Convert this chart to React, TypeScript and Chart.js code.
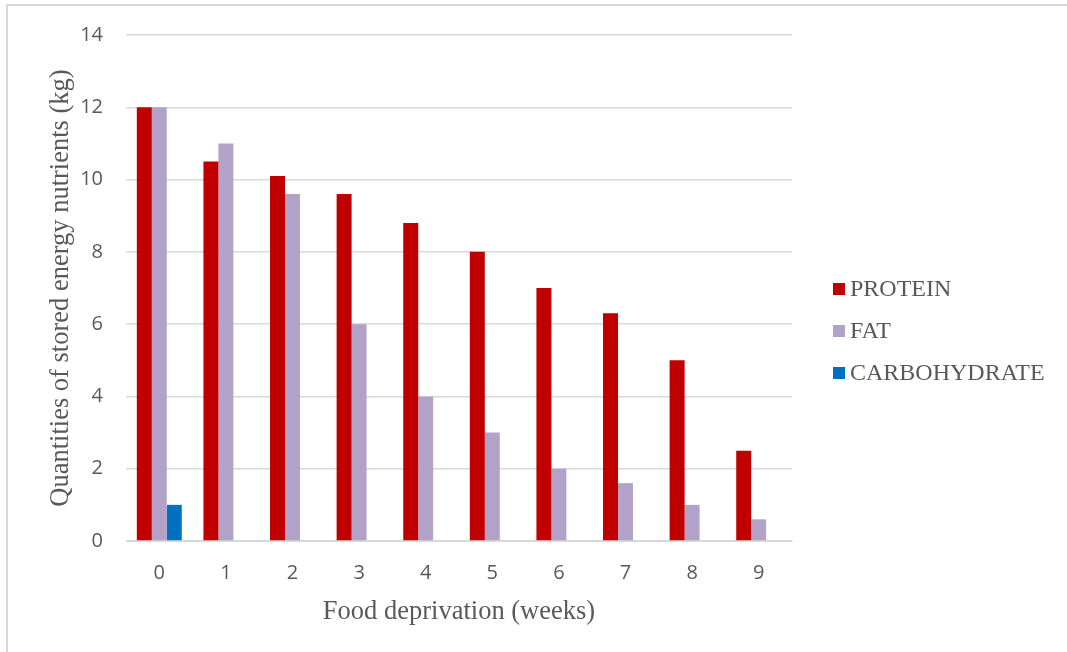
import React, { useEffect, useRef } from "react";
import { Chart, registerables } from "chart.js";

Chart.register(...registerables);

const categories = ["0", "1", "2", "3", "4", "5", "6", "7", "8", "9"];
const protein = [12, 10.5, 10.1, 9.6, 8.8, 8, 7, 6.3, 5, 2.5];
const fat = [12, 11, 9.6, 6, 4, 3, 2, 1.6, 1, 0.6];
const carbohydrate = [1, null, null, null, null, null, null, null, null, null];
const seriesNames = ["PROTEIN", "FAT", "CARBOHYDRATE"];
const seriesColors = ["#C00000", "#B3A2C7", "#0070C0"];
const yTitle = "Quantities of stored energy nutrients (kg)";
const xTitle = "Food deprivation (weeks)";

const TEXT = "#595959";
const GRID = "#D9D9D9";

const legendPlugin = {
  id: "customLegend",
  afterDraw(chart: any) {
    const ctx = chart.ctx;
    ctx.save();
    ctx.font = '24px "Liberation Serif", "Times New Roman", serif';
    ctx.textBaseline = "middle";
    ctx.textAlign = "left";
    chart.data.datasets.forEach((ds: any, i: number) => {
      const cy = 289 + i * 42;
      ctx.fillStyle = ds.backgroundColor;
      ctx.fillRect(833, cy - 6, 12, 12);
      ctx.fillStyle = TEXT;
      ctx.fillText(ds.label, 850, cy + 1);
    });
    ctx.restore();
  },
};

export default function App() {
  const ref = useRef<HTMLCanvasElement | null>(null);

  useEffect(() => {
    if (!ref.current) return;
    const values = [protein, fat, carbohydrate];
    const chart = new Chart(ref.current, {
      type: "bar",
      data: {
        labels: categories,
        datasets: values.map((v, i) => ({
          label: seriesNames[i],
          data: v,
          backgroundColor: seriesColors[i],
          borderWidth: 0,
          categoryPercentage: 0.675,
          barPercentage: 1,
        })),
      },
      options: {
        responsive: false,
        animation: false,
        layout: { padding: { top: 34.5, right: 275, bottom: 0, left: 0 } },
        plugins: {
          legend: { display: false },
          tooltip: { enabled: false },
        },
        scales: {
          x: {
            grid: { display: false, drawTicks: false },
            border: { display: true, color: GRID, width: 1 },
            ticks: {
              color: TEXT,
              padding: 20,
              font: { family: '"Open Sans", sans-serif', size: 20 },
            },
            title: {
              display: true,
              text: xTitle,
              color: TEXT,
              font: { family: '"Liberation Serif", "Times New Roman", serif', size: 26.5 },
              padding: { top: 0, bottom: 24 },
            },
            afterFit(scale: any) {
              scale.height = 652 - 541;
            },
          },
          y: {
            min: 0,
            max: 14,
            ticks: {
              stepSize: 2,
              color: TEXT,
              padding: 23,
              font: { family: '"Open Sans", sans-serif', size: 20 },
            },
            grid: { color: GRID, lineWidth: 1.5, drawTicks: false },
            border: { display: false },
            title: {
              display: true,
              text: yTitle,
              color: TEXT,
              font: { family: '"Liberation Serif", "Times New Roman", serif', size: 26.5 },
              padding: { top: 45, bottom: 0 },
            },
            afterFit(scale: any) {
              scale.width = 126;
            },
          },
        },
      },
      plugins: [legendPlugin],
    });
    return () => chart.destroy();
  }, []);

  return (
    <div style={{ position: "fixed", left: 0, top: 0, width: 1067, height: 652, background: "#fff", overflow: "hidden" }}>
      <div
        style={{
          position: "absolute",
          left: 6,
          top: 4,
          width: 1100,
          height: 700,
          borderLeft: `2px solid ${GRID}`,
          borderTop: `2px solid ${GRID}`,
        }}
      />
      <canvas ref={ref} width={1067} height={652} style={{ position: "absolute", left: 0, top: 0 }} />
    </div>
  );
}
